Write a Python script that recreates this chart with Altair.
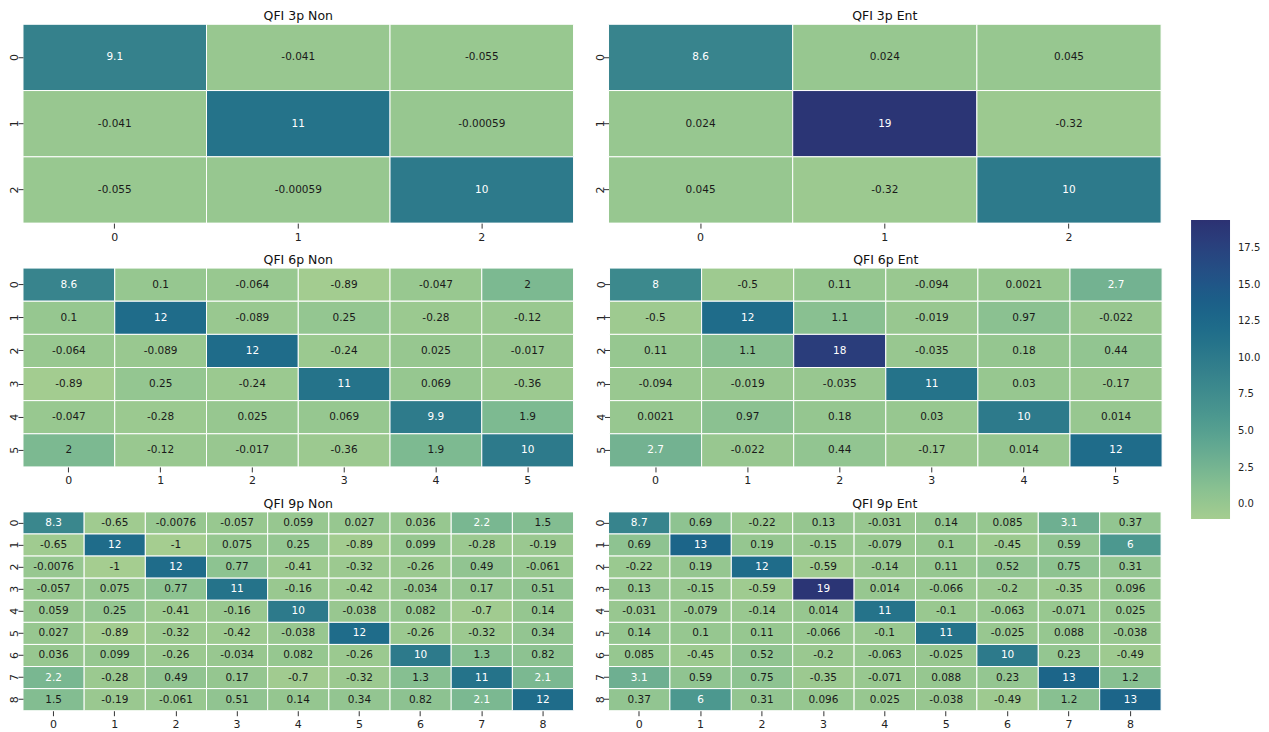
import altair as alt
import pandas as pd
import numpy as np

m3_non = [[9.1, -0.041, -0.055],
          [-0.041, 11, -0.00059],
          [-0.055, -0.00059, 10]]
m3_ent = [[8.6, 0.024, 0.045],
          [0.024, 19, -0.32],
          [0.045, -0.32, 10]]
m6_non = [[8.6, 0.1, -0.064, -0.89, -0.047, 2],
          [0.1, 12, -0.089, 0.25, -0.28, -0.12],
          [-0.064, -0.089, 12, -0.24, 0.025, -0.017],
          [-0.89, 0.25, -0.24, 11, 0.069, -0.36],
          [-0.047, -0.28, 0.025, 0.069, 9.9, 1.9],
          [2, -0.12, -0.017, -0.36, 1.9, 10]]
m6_ent = [[8, -0.5, 0.11, -0.094, 0.0021, 2.7],
          [-0.5, 12, 1.1, -0.019, 0.97, -0.022],
          [0.11, 1.1, 18, -0.035, 0.18, 0.44],
          [-0.094, -0.019, -0.035, 11, 0.03, -0.17],
          [0.0021, 0.97, 0.18, 0.03, 10, 0.014],
          [2.7, -0.022, 0.44, -0.17, 0.014, 12]]
m9_non = [[8.3, -0.65, -0.0076, -0.057, 0.059, 0.027, 0.036, 2.2, 1.5],
          [-0.65, 12, -1, 0.075, 0.25, -0.89, 0.099, -0.28, -0.19],
          [-0.0076, -1, 12, 0.77, -0.41, -0.32, -0.26, 0.49, -0.061],
          [-0.057, 0.075, 0.77, 11, -0.16, -0.42, -0.034, 0.17, 0.51],
          [0.059, 0.25, -0.41, -0.16, 10, -0.038, 0.082, -0.7, 0.14],
          [0.027, -0.89, -0.32, -0.42, -0.038, 12, -0.26, -0.32, 0.34],
          [0.036, 0.099, -0.26, -0.034, 0.082, -0.26, 10, 1.3, 0.82],
          [2.2, -0.28, 0.49, 0.17, -0.7, -0.32, 1.3, 11, 2.1],
          [1.5, -0.19, -0.061, 0.51, 0.14, 0.34, 0.82, 2.1, 12]]
m9_ent = [[8.7, 0.69, -0.22, 0.13, -0.031, 0.14, 0.085, 3.1, 0.37],
          [0.69, 13, 0.19, -0.15, -0.079, 0.1, -0.45, 0.59, 6],
          [-0.22, 0.19, 12, -0.59, -0.14, 0.11, 0.52, 0.75, 0.31],
          [0.13, -0.15, -0.59, 19, 0.014, -0.066, -0.2, -0.35, 0.096],
          [-0.031, -0.079, -0.14, 0.014, 11, -0.1, -0.063, -0.071, 0.025],
          [0.14, 0.1, 0.11, -0.066, -0.1, 11, -0.025, 0.088, -0.038],
          [0.085, -0.45, 0.52, -0.2, -0.063, -0.025, 10, 0.23, -0.49],
          [3.1, 0.59, 0.75, -0.35, -0.071, 0.088, 0.23, 13, 1.2],
          [0.37, 6, 0.31, 0.096, 0.025, -0.038, -0.49, 1.2, 13]]

titles = ["QFI 3p Non", "QFI 3p Ent", "QFI 6p Non", "QFI 6p Ent", "QFI 9p Non", "QFI 9p Ent"]
mats = [m3_non, m3_ent, m6_non, m6_ent, m9_non, m9_ent]

vmin, vmax = -1.0, 19.4
crest = ["#a5cd90", "#8ac191", "#6eaf91", "#559f90", "#438f8e", "#34808c",
         "#24718a", "#1c6389", "#225386", "#29437e", "#2c3172"]
dom = list(np.linspace(vmin, vmax, len(crest)))
color_scale = alt.Scale(domain=dom, range=crest, clamp=True)

FONT = "DejaVu Sans"
H = 199


def panel(title, m, show_legend, width):
    n = len(m)
    rows = []
    for i in range(n):
        for j in range(n):
            v = m[i][j]
            rows.append({"row": str(i), "col": str(j), "value": v, "label": format(v, ".2g")})
    df = pd.DataFrame(rows)
    order = [str(k) for k in range(n)]
    base = alt.Chart(df).encode(
        x=alt.X("col:O", sort=order, title=None,
                axis=alt.Axis(labelAngle=0, ticks=True, tickSize=5, domain=False,
                              labelFontSize=11, labelPadding=3, tickColor="#333", labelColor="#222")),
        y=alt.Y("row:O", sort=order, title=None,
                axis=alt.Axis(labelAngle=270, ticks=True, tickSize=5, domain=False,
                              labelFontSize=11, labelPadding=3, tickColor="#333", labelColor="#222",
                              labelBaseline="middle", labelAlign="center")),
    )
    if show_legend:
        leg = alt.Legend(title=None, orient="none", legendX=1169, legendY=196,
                         gradientLength=299, gradientThickness=39, direction="vertical",
                         values=[0, 2.5, 5, 7.5, 10, 12.5, 15, 17.5], format=".1f",
                         labelFontSize=10, labelOffset=8, gradientStrokeWidth=0, padding=0,
                         labelColor="#222")
        col = alt.Color("value:Q", scale=color_scale, legend=leg)
    else:
        col = alt.Color("value:Q", scale=color_scale)
    rect = base.mark_rect(stroke="white", strokeWidth=1).encode(color=col)
    text = base.mark_text(fontSize=10.5, font=FONT).encode(
        text="label:N",
        color=alt.condition(alt.datum.value > 2.05, alt.value("white"), alt.value("#1a1a1a")),
    )
    return alt.layer(rect, text).properties(
        width=width, height=H,
        title=alt.TitleParams(title, fontSize=12.5, font=FONT, fontWeight="normal", offset=1, color="#111"),
    )


panels = [panel(t, m, k == 0, 551 if k % 2 == 0 else 553) for k, (t, m) in enumerate(zip(titles, mats))]
rows_ = [alt.hconcat(panels[2 * r], panels[2 * r + 1], spacing=20) for r in range(3)]
chart = alt.vconcat(*rows_, spacing=12).properties(
    padding={"top": 2, "left": 0, "right": 0, "bottom": 0}
).configure(font=FONT).configure_view(stroke=None).configure_legend(padding=0)

chart.save("out.html", embed_options={"renderer": "svg", "actions": False})
